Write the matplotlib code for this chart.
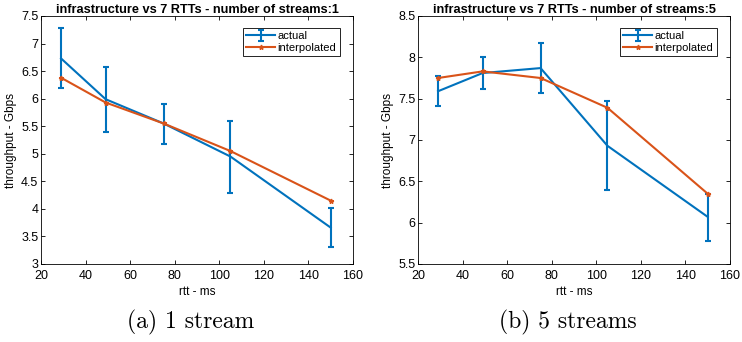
import matplotlib
matplotlib.use("Agg")
import matplotlib.pyplot as plt
from matplotlib.ticker import FormatStrFormatter

plt.rcParams['font.family'] = ['Liberation Sans', 'DejaVu Sans']

rtt = [29, 49, 75, 105, 150]

# 1 stream
act1 = [6.73, 5.99, 5.55, 4.95, 3.66]
lo1 = [6.20, 5.40, 5.18, 4.28, 3.30]
hi1 = [7.28, 6.58, 5.91, 5.60, 4.01]
itp1 = [6.38, 5.93, 5.55, 5.05, 4.15]

# 5 streams
act5 = [7.59, 7.81, 7.87, 6.93, 6.07]
lo5 = [7.41, 7.62, 7.57, 6.39, 5.78]
hi5 = [7.77, 8.00, 8.17, 7.47, 6.35]
itp5 = [7.75, 7.83, 7.75, 7.39, 6.35]

blue = '#0072BD'
orange = '#D95319'

fig = plt.figure(figsize=(7.42, 3.42), dpi=100)
W, H = 742, 342


def panel(x0, title, act, lo, hi, itp, ylim, yticks, caption):
    ax = fig.add_axes([x0 / W, 1 - 264 / H, 312 / W, 248 / H])
    err = [[a - l for a, l in zip(act, lo)], [h - a for a, h in zip(act, hi)]]
    h1 = ax.errorbar(rtt, act, yerr=err, color=blue, lw=1.5, capsize=2.5,
                     capthick=1.5, elinewidth=1.5, label='actual', zorder=2)
    h2, = ax.plot(rtt, itp, color=orange, lw=1.5, marker='*', ms=3.5,
                  label='interpolated', zorder=3)
    ax.set_xlim(20, 160)
    ax.set_ylim(*ylim)
    ax.set_yticks(yticks)
    ax.set_xticks(range(20, 161, 20))
    ax.yaxis.set_major_formatter(FormatStrFormatter('%g'))
    ax.tick_params(direction='in', top=True, right=True, labelsize=9,
                   length=3, width=0.6)
    ax.tick_params(axis='x', pad=4)
    ax.tick_params(axis='y', pad=2)
    for s in ax.spines.values():
        s.set_linewidth(0.6)
    ax.set_title(title, fontsize=9.2, fontweight='bold', pad=2)
    ax.set_xlabel('rtt - ms', fontsize=8.5, labelpad=3)
    ax.set_ylabel('throughput - Gbps', fontsize=8.5, labelpad=3)
    leg = ax.legend([h1, h2], ['actual', 'interpolated'], loc='upper right',
                    fontsize=8, fancybox=False, framealpha=1,
                    edgecolor='black', borderpad=0.3, handlelength=2.6,
                    handletextpad=0.2, labelspacing=0.15,
                    bbox_to_anchor=(0.975, 0.975))
    leg.get_frame().set_linewidth(0.6)
    fig.text((x0 + 150) / W, 1 - 322 / H, caption, family='cmr10',
             fontsize=17, ha='center', va='center')
    return ax


panel(41, 'infrastructure vs 7 RTTs - number of streams:1', act1, lo1, hi1, itp1,
      (3, 7.5), [3, 3.5, 4, 4.5, 5, 5.5, 6, 6.5, 7, 7.5], '(a) 1 stream')
panel(418, 'infrastructure vs 7 RTTs - number of streams:5', act5, lo5, hi5, itp5,
      (5.5, 8.5), [5.5, 6, 6.5, 7, 7.5, 8, 8.5], '(b) 5 streams')

fig.savefig('out.png', dpi=100)
